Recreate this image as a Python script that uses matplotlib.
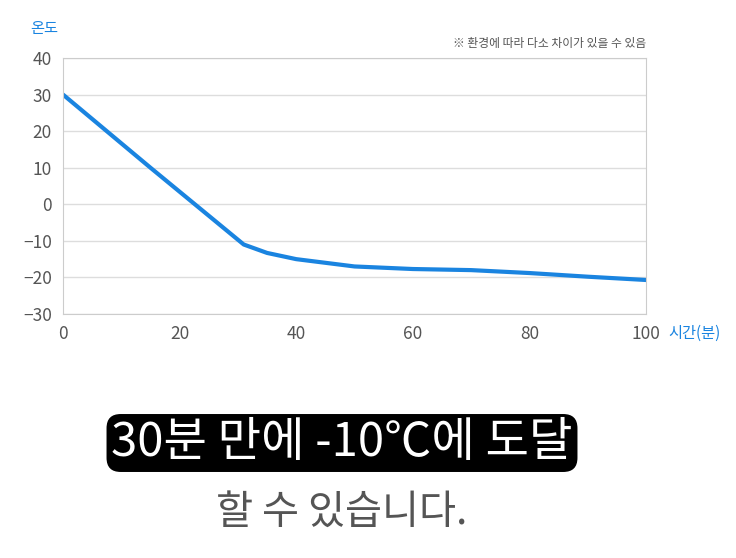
import matplotlib
matplotlib.use("Agg")
import matplotlib.pyplot as plt

plt.rcParams['font.family'] = ['Noto Sans CJK KR', 'DejaVu Sans']

minutes = [0, 15, 31, 35, 40, 50, 60, 70, 80, 90, 100]
temps = [30, 10, -11, -13.3, -15, -17, -17.7, -18, -18.8, -19.8, -20.7]
yticks = [40, 30, 20, 10, 0, -10, -20, -30]
xticks = [0, 20, 40, 60, 80, 100]

fig = plt.figure(figsize=(7.36, 5.58), dpi=100)
ax = fig.add_axes([63/736, 1-314/558, (646-63)/736, (314-58)/558])
ax.plot(minutes, temps, color='#1a84e0', lw=3, solid_capstyle='round')
ax.set_xlim(0, 100)
ax.set_ylim(-30, 40)
ax.set_yticks(yticks)
ax.set_xticks(xticks)
ax.grid(axis='y', color='#dddddd', lw=1)
for s in ax.spines.values():
    s.set_color('#cccccc')
ax.tick_params(length=0, labelsize=12.5, colors='#555555', pad=8)
ax.set_axisbelow(True)

fig.text(30/736, 1-28/558, '온도', color='#1a84e0', fontsize=11, ha='left', va='center')
fig.text(646/736, 1-44/558, '※ 환경에 따라 다소 차이가 있을 수 있음', color='#555555', fontsize=8.5, ha='right', va='center')
fig.text(668/736, 1-333/558, '시간(분)', color='#1a84e0', fontsize=11, ha='left', va='center')
fig.text(342/736, 1-443/558, '30분 만에 -10℃에 도달', color='white', fontsize=34, ha='center', va='center',
         fontweight='medium',
         bbox=dict(boxstyle='round,pad=0.1,rounding_size=0.3', fc='black', ec='none'))
fig.text(342/736, 1-512/558, '할 수 있습니다.', color='#555555', fontsize=29, ha='center', va='center')
fig.savefig('out.png', dpi=100)
